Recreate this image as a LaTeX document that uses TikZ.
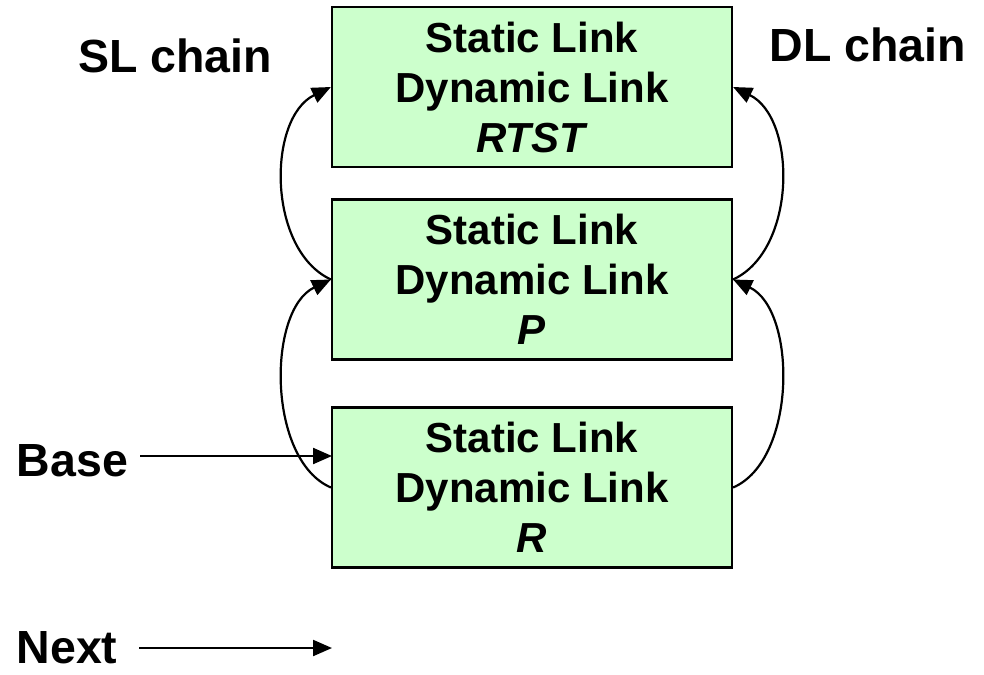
\documentclass[tikz,border=0pt]{standalone}
\usepackage{fontspec}
\setmainfont{Liberation Sans}
\usetikzlibrary{arrows.meta}
\definecolor{boxgreen}{HTML}{CCFFCC}
\begin{document}
\begin{tikzpicture}[x=1pt,y=-1pt,
  frame/.style={draw=black, line width=2.2pt, fill=boxgreen,
    minimum width=400pt, minimum height=160pt, inner sep=0pt,
    align=center, font=\fontsize{42}{50}\selectfont\bfseries},
  lbl/.style={font=\fontsize{46.5}{50}\selectfont\bfseries, inner sep=0pt},
  link/.style={line width=2.2pt, -{Triangle[length=19pt,width=16pt]}}]
\useasboundingbox (0,0) rectangle (984,674);

% activation records
\node[frame] (top) at (532,87) {Static Link\\Dynamic Link\\\textit{RTST}};
\node[frame] (mid) at (532,279.5) {Static Link\\Dynamic Link\\\textit{P}};
\node[frame] (bot) at (532,487.5) {Static Link\\Dynamic Link\\\textit{R}};

% labels
\node[lbl] (sl) at (175,56) {SL chain};
\node[lbl] (dl) at (868,45) {DL chain};
\node[lbl] (base) at (72.5,461) {Base};
\node[lbl] (next) at (67,648) {Next};

\coordinate (baseIn) at (332,456);
\coordinate (nextEnd) at (332,648);

% static link chain (left)
\draw[link] (mid.west) .. controls (267,250) and (267,118) .. (top.west);
\draw[link] (bot.west) .. controls (267,460) and (267,310) .. (mid.west);

% dynamic link chain (right)
\draw[link] (mid.east) .. controls (797,250) and (797,118) .. (top.east);
\draw[link] (bot.east) .. controls (797,460) and (797,310) .. (mid.east);

% pointers
\draw[link] (140,456) -- (baseIn);
\draw[link] (139,648) -- (nextEnd);
\end{tikzpicture}
\end{document}
